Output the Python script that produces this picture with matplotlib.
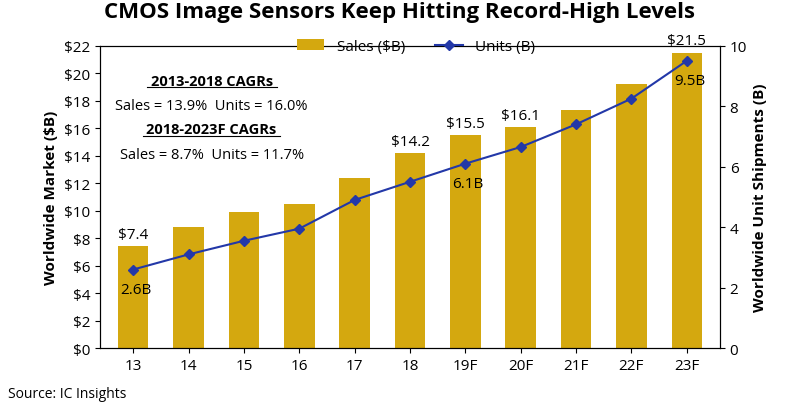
import matplotlib.pyplot as plt
import numpy as np

years = ["13", "14", "15", "16", "17", "18", "19F", "20F", "21F", "22F", "23F"]
sales = [7.4, 8.8, 9.9, 10.5, 12.4, 14.2, 15.5, 16.1, 17.3, 19.2, 21.5]
units = [2.6, 3.1, 3.55, 3.95, 4.9, 5.5, 6.1, 6.65, 7.4, 8.25, 9.5]

plt.rcParams['font.family'] = ['Open Sans', 'DejaVu Sans']

fig = plt.figure(figsize=(8, 4.06), dpi=100)
ax = fig.add_axes([0.125, 0.14, 0.775, 0.745])
ax2 = ax.twinx()
ax2.set_position(ax.get_position())

x = np.arange(len(years))
bars = ax.bar(x, sales, width=0.55, color="#d4a80f", label="Sales ($B)")
line, = ax2.plot(x, units, color="#2338a8", marker="D", markersize=5, lw=1.5, label="Units (B)")

ax.set_ylim(0, 22)
ax.set_yticks(range(0, 23, 2))
ax.set_yticklabels([f"${v}" for v in range(0, 23, 2)], fontsize=11)
ax2.set_ylim(0, 10)
ax2.set_yticks(range(0, 11, 2))
ax2.tick_params(labelsize=11)
ax.set_xlim(-0.6, len(years) - 0.4)
ax.set_xticks(x)
ax.set_xticklabels(years, fontsize=11)
ax.set_ylabel("Worldwide Market ($B)", fontsize=11, fontweight="bold")
ax2.set_ylabel("Worldwide Unit Shipments (B)", fontsize=11, fontweight="bold")

for i in [0, 5, 6, 7, 10]:
    ax.text(x[i], sales[i] + 0.3, f"${sales[i]}", ha="center", va="bottom", fontsize=11)
for i, dy in [(0, -0.4), (6, -0.4), (10, -0.4)]:
    ax2.text(x[i] + 0.05, units[i] + dy, f"{units[i]}B", ha="center", va="top", fontsize=11)

cx = 0.18
ax.text(cx, 0.87, "2013-2018 CAGRs", transform=ax.transAxes, ha="center",
        fontsize=10.5, fontweight="bold")
ax.plot([cx - 0.105, cx + 0.105], [0.862, 0.862], transform=ax.transAxes, color="black", lw=0.8)
ax.text(cx, 0.79, "Sales = 13.9%  Units = 16.0%", transform=ax.transAxes, ha="center", fontsize=10.5)
ax.text(cx, 0.71, "2018-2023F CAGRs", transform=ax.transAxes, ha="center",
        fontsize=10.5, fontweight="bold")
ax.plot([cx - 0.11, cx + 0.11], [0.702, 0.702], transform=ax.transAxes, color="black", lw=0.8)
ax.text(cx, 0.63, "Sales = 8.7%  Units = 11.7%", transform=ax.transAxes, ha="center", fontsize=10.5)

fig.legend(handles=[bars, line], loc="upper center", bbox_to_anchor=(0.52, 0.935), ncol=2,
           frameon=False, fontsize=11, handlelength=1.8)
fig.suptitle("CMOS Image Sensors Keep Hitting Record-High Levels", fontsize=16,
             fontweight="bold", y=0.995)
fig.text(0.01, 0.02, "Source: IC Insights", fontsize=10)

fig.savefig("out.png", dpi=100)
